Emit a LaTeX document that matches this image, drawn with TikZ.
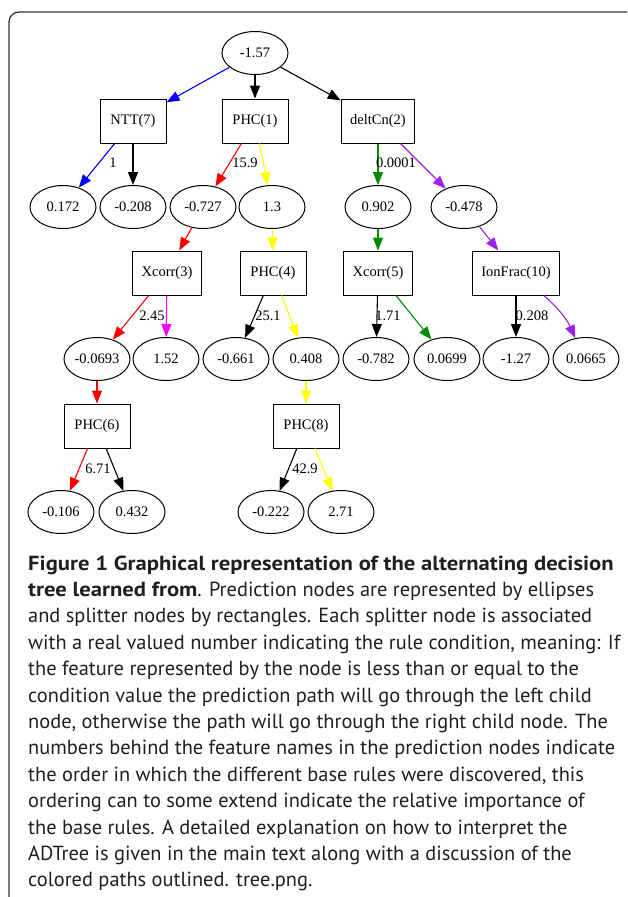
\documentclass[tikz,border=0pt]{standalone}
\usepackage{fontspec}
\setmainfont{Liberation Serif}
\newfontfamily\capfont{PT Sans}[BoldFeatures={FakeStretch=1.11}]
\usetikzlibrary{arrows.meta, shapes.geometric}

\definecolor{edgered}{RGB}{255,0,0}
\definecolor{edgeblue}{RGB}{0,0,255}
\definecolor{edgeyellow}{RGB}{255,255,0}
\definecolor{edgegreen}{RGB}{0,139,0}
\definecolor{edgepurple}{RGB}{160,32,240}
\definecolor{edgemagenta}{RGB}{255,0,255}

\begin{document}
\begin{tikzpicture}[
  x=1pt, y=1pt,
  pred/.style={ellipse, draw, line width=1pt, minimum width=66pt, minimum height=43pt, inner sep=0pt, font=\fontsize{14.5}{16}\selectfont},
  split/.style={rectangle, draw, line width=1pt, minimum width=66pt, minimum height=44pt, inner xsep=9pt, font=\fontsize{14.5}{16}\selectfont},
  cond/.style={inner sep=0pt, font=\fontsize{14.5}{16}\selectfont},
  edge/.style={-{Triangle[length=13pt, width=10pt]}, line width=1.1pt},
  captxt/.style={anchor=base west, inner sep=0pt, font=\capfont\fontsize{20.4}{26}\selectfont, text=black!88}
]
  \useasboundingbox (0,0) rectangle (627,-897);
  \draw[black!80, line width=1.3pt, rounded corners=10pt] (9,-897) -- (9,-12) -- (627,-12);

  % root and first splitters
  \node[pred]  (root) at (255,-53) {-1.57};
  \node[split] (ntt)  at (133,-121) {NTT(7)};
  \node[split] (phcA) at (255,-121) {PHC(1)};
  \node[split] (delt) at (378,-121) {deltCn(2)};

  % second row of predictions
  \node[pred] (pA) at (63,-207)  {0.172};
  \node[pred] (pB) at (133,-207) {-0.208};
  \node[pred] (pC) at (203,-207) {-0.727};
  \node[pred] (pD) at (272,-207) {1.3};
  \node[pred] (pE) at (378,-207) {0.902};
  \node[pred] (pF) at (464,-207) {-0.478};

  \node[split] (xcA)  at (167,-273) {Xcorr(3)};
  \node[split] (phcD) at (273,-273) {PHC(4)};
  \node[split] (xcB)  at (378,-273) {Xcorr(5)};
  \node[split] (ion)  at (516,-273) {IonFrac(10)};

  \node[pred] (pG) at (97,-359)  {-0.0693};
  \node[pred] (pH) at (166,-359) {1.52};
  \node[pred] (pI) at (236,-359) {-0.661};
  \node[pred] (pJ) at (306,-359) {0.408};
  \node[pred] (pK) at (376,-359) {-0.782};
  \node[pred] (pL) at (447,-359) {0.0699};
  \node[pred] (pM) at (516,-359) {-1.27};
  \node[pred] (pN) at (586,-359) {0.0665};

  \node[split] (phcF) at (97,-426)  {PHC(6)};
  \node[split] (phcH) at (306,-426) {PHC(8)};

  \node[pred] (pO) at (61,-512)  {-0.106};
  \node[pred] (pP) at (132,-512) {0.432};
  \node[pred] (pQ) at (271,-512) {-0.222};
  \node[pred] (pR) at (341,-512) {2.71};

  % connectors
  \draw[edge, edgeblue] (root) -- (ntt);
  \draw[edge] (root) -- (phcA);
  \draw[edge] (root) -- (delt);
  \draw[edge, edgeblue] (ntt) -- (pA);
  \draw[edge] (ntt) -- (pB);
  \draw[edge, edgered] (phcA) -- (pC);
  \draw[edge, edgeyellow] (phcA) -- (pD);
  \draw[edge, edgegreen] (delt) -- (pE);
  \draw[edge, edgepurple] (delt) -- (pF);
  \draw[edge, edgered] (pC) -- (xcA);
  \draw[edge, edgeyellow] (pD) -- (phcD);
  \draw[edge, edgegreen] (pE) -- (xcB);
  \draw[edge, edgepurple] (pF) -- (ion);
  \draw[edge, edgered] (xcA) -- (pG);
  \draw[edge, edgemagenta] (xcA) -- (pH);
  \draw[edge] (phcD) -- (pI);
  \draw[edge, edgeyellow] (phcD) -- (pJ);
  \draw[edge] (xcB) -- (pK);
  \draw[edge, edgegreen] (xcB) -- (pL);
  \draw[edge] (ion) -- (pM);
  \draw[edge, edgepurple] (ion) to[bend left=12] (pN);
  \draw[edge, edgered] (pG) -- (phcF);
  \draw[edge, edgeyellow] (pJ) -- (phcH);
  \draw[edge, edgered] (phcF) -- (pO);
  \draw[edge] (phcF) -- (pP);
  \draw[edge] (phcH) -- (pQ);
  \draw[edge, edgeyellow] (phcH) -- (pR);

  % split conditions
  \node[cond] (cNtt)  at (113,-163) {1};
  \node[cond] (cPhcA) at (245,-163) {15.9};
  \node[cond] (cDelt) at (396,-163) {0.0001};
  \node[cond] (cXcA)  at (152,-316) {2.45};
  \node[cond] (cPhcD) at (268,-316) {25.1};
  \node[cond] (cXcB)  at (388,-316) {1.71};
  \node[cond] (cIon)  at (532,-316) {0.208};
  \node[cond] (cPhcF) at (98,-469)  {6.71};
  \node[cond] (cPhcH) at (305,-469) {42.9};

  % caption
  \foreach \txt [count=\i from 0] in {
    {\textbf{Figure 1 Graphical representation of the alternating decision}},
    {\textbf{tree learned from}. Prediction nodes are represented by ellipses},
    {and splitter nodes by rectangles. Each splitter node is associated},
    {with a real valued number indicating the rule condition, meaning: If},
    {the feature represented by the node is less than or equal to the},
    {condition value the prediction path will go through the left child},
    {node, otherwise the path will go through the right child node. The},
    {numbers behind the feature names in the prediction nodes indicate},
    {the order in which the different base rules were discovered, this},
    {ordering can to some extend indicate the relative importance of},
    {the base rules. A detailed explanation on how to interpret the},
    {ADTree is given in the main text along with a discussion of the},
    {colored paths outlined. tree.png.}}
    \node[captxt] (cap\i) at (28,{-570-26.4*\i}) {\txt};
\end{tikzpicture}
\end{document}
